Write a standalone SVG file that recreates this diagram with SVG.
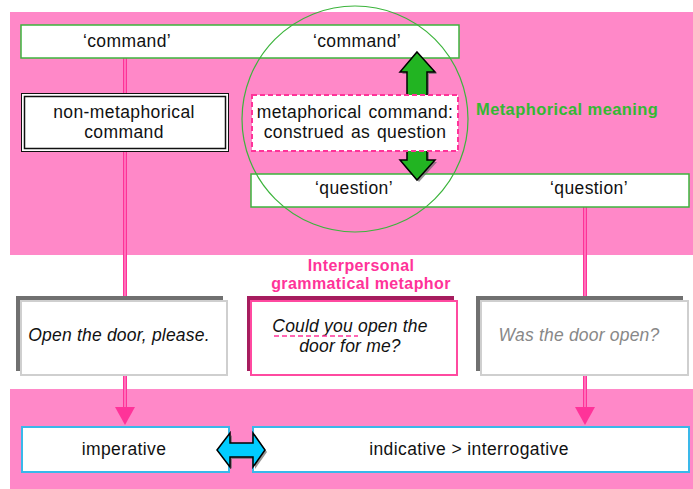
<svg xmlns="http://www.w3.org/2000/svg" width="693" height="489" viewBox="0 0 693 489">
  <style>
    .t { font-family: "Liberation Sans", Arial, sans-serif; font-size: 17.5px; fill: #111; text-anchor: middle; letter-spacing: 0.4px; }
    .it { font-style: italic; letter-spacing: 0.2px; }
    .lbl { font-family: "Liberation Sans", Arial, sans-serif; font-weight: bold; }
    .band { fill: #ff88c8; }
    .meaning { fill: #fff; stroke: #3cb43c; stroke-width: 1.5; }
    .form { fill: #fff; stroke: #3ab8ea; stroke-width: 2; }
    .link { stroke: #ff3399; stroke-width: 4; fill: none; }
    .link-core { stroke: #ff8ac6; stroke-width: 1.4; fill: none; }
    .head { fill: #ff3399; }
  </style>

  <!-- background bands -->
  <rect class="band" x="10" y="12" width="683" height="243"/>
  <rect class="band" x="10" y="389" width="683" height="100"/>

  <!-- connectors -->
  <g id="connectors">
    <line class="link" x1="125" y1="58" x2="125" y2="296"/>
    <line class="link-core" x1="125" y1="58" x2="125" y2="296"/>
    <line class="link" x1="585" y1="207" x2="585" y2="296"/>
    <line class="link-core" x1="585" y1="207" x2="585" y2="296"/>
    <line class="link" x1="125" y1="375" x2="125" y2="410"/>
    <line class="link-core" x1="125" y1="375" x2="125" y2="408"/>
    <polygon class="head" points="115,407 135,407 125,425"/>
    <line class="link" x1="585" y1="375" x2="585" y2="410"/>
    <line class="link-core" x1="585" y1="375" x2="585" y2="408"/>
    <polygon class="head" points="575,407 595,407 585,425"/>
  </g>

  <!-- semantic level -->
  <g id="command-row">
    <rect class="meaning" x="21" y="25" width="438" height="33"/>
    <text class="t" x="127" y="47">‘command’</text>
    <text class="t" x="357" y="47">‘command’</text>
  </g>

  <g id="question-row">
    <rect class="meaning" x="251" y="174" width="438" height="33"/>
    <text class="t" x="354" y="194">‘question’</text>
    <text class="t" x="589" y="194">‘question’</text>
  </g>

  <g id="non-metaphorical">
    <rect x="21.5" y="93.5" width="207" height="58" fill="#fff" stroke="#111" stroke-width="1"/>
    <rect x="24.5" y="96.5" width="201" height="52" fill="none" stroke="#111" stroke-width="1.5"/>
    <text class="t" x="124" y="118">non-metaphorical</text>
    <text class="t" x="124" y="138">command</text>
  </g>

  <!-- vertical double arrow between the two meanings -->
  <g id="meaning-shift">
    <path d="M419,54 L437,74 L429,74 L429,162 L437,162 L419,182 L402,162 L409,162 L409,74 L402,74 Z" fill="#6a6a6a" opacity="0.7"/>
    <path d="M417,52 L435,72 L427,72 L427,160 L435,160 L417,180 L400,160 L407,160 L407,72 L400,72 Z" fill="#22b422" stroke="#000" stroke-width="1.5"/>
  </g>

  <g id="metaphorical">
    <rect x="252" y="95" width="206" height="56" fill="#fff" stroke="#ff3399" stroke-width="2" stroke-dasharray="5,3"/>
    <text class="t" x="355" y="118" word-spacing="1.5" letter-spacing="0.2">metaphorical command:</text>
    <text class="t" x="355" y="138" word-spacing="1.5" letter-spacing="0.2">construed as question</text>
  </g>

  <circle id="metaphor-zone" cx="355" cy="119" r="113" fill="none" stroke="#3cb43c" stroke-width="1.2"/>

  <text id="metaphorical-meaning" class="lbl" x="476" y="115" font-size="16.5" letter-spacing="0.4" fill="#33b833">Metaphorical meaning</text>

  <!-- lexicogrammatical level -->
  <g id="interpersonal-label">
    <text class="lbl" x="361" y="271" font-size="16" letter-spacing="0.4" fill="#ff3399" text-anchor="middle">Interpersonal</text>
    <text class="lbl" x="361" y="289" font-size="16" letter-spacing="0.4" fill="#ff3399" text-anchor="middle">grammatical metaphor</text>
  </g>

  <g id="open-door">
    <rect x="16" y="296" width="207" height="75" fill="#707070"/>
    <rect x="21" y="301" width="206" height="74" fill="#fff" stroke="#cfcfcf" stroke-width="2"/>
    <text class="t it" x="119" y="341">Open the door, please.</text>
  </g>

  <g id="could-you">
    <rect x="247" y="296" width="207" height="75" fill="#a61c5e"/>
    <rect x="251" y="301" width="206" height="74" fill="#fff" stroke="#ff4aa0" stroke-width="2"/>
    <text class="t it" x="350" y="332">Could you open the</text>
    <text class="t it" x="350" y="352">door for me?</text>
    <line x1="274" y1="336" x2="358" y2="336" stroke="#ff3399" stroke-width="1.5" stroke-dasharray="5,3"/>
  </g>

  <g id="door-open">
    <rect x="476" y="296" width="207" height="75" fill="#707070"/>
    <rect x="481" y="301" width="207" height="74" fill="#fff" stroke="#cfcfcf" stroke-width="2"/>
    <text class="t it" x="579" y="341" style="fill:#888">Was the door open?</text>
  </g>

  <g id="imperative">
    <rect class="form" x="22" y="427" width="207" height="45"/>
    <text class="t" x="124" y="455">imperative</text>
  </g>

  <g id="indicative">
    <rect class="form" x="253" y="427" width="436" height="45"/>
    <text class="t" x="469" y="455">indicative &gt; interrogative</text>
  </g>

  <!-- horizontal double arrow between the two forms -->
  <g id="form-contrast">
    <path d="M219,452 L232,435 L232,445 L255,445 L255,435 L267,452 L255,469 L255,459 L232,459 L232,469 Z" fill="#6a6a6a" opacity="0.7"/>
    <path d="M217,450 L230,433 L230,443 L253,443 L253,433 L265,450 L253,467 L253,457 L230,457 L230,467 Z" fill="#00ccff" stroke="#000" stroke-width="1.5"/>
  </g>
</svg>
